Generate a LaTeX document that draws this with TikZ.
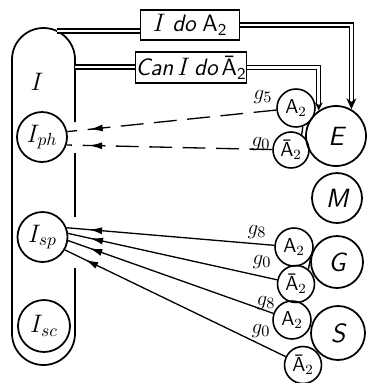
\documentclass[tikz,border=0pt]{standalone}
\usepackage{amsmath,amssymb}
\usepackage{fontspec}
\usepackage{tikz}
\usetikzlibrary{arrows.meta,positioning,decorations.markings}
\tikzset{
  blob/.style={draw,circle,inner sep=0,line width=1pt,minimum size=1cm,
               font=\fontsize{14}{16}\selectfont},
  agent/.style={draw,circle,inner sep=0,line width=1pt,
                font=\fontsize{15}{17}\selectfont\sffamily\itshape},
  cond/.style={draw,circle,inner sep=0,line width=0.9pt,minimum size=0.75cm,
               font=\fontsize{11.5}{13}\selectfont\sffamily},
  tag/.style={draw,line width=0.6pt,inner sep=0,minimum width=1.98cm,
              minimum height=0.6cm,font=\fontsize{13.5}{15}\selectfont\sffamily\itshape},
  glabel/.style={font=\fontsize{13}{15}\selectfont,inner sep=0},
  pipe/.style={double,double distance=1.6pt,line width=0.65pt},
  feed/.style={line width=0.75pt,postaction={decorate},
               decoration={markings,mark=at position -0.45cm with
                 {\arrow[solid]{Latex[length=2.6mm,width=1.4mm]}}}},
}
\begin{document}
\begin{tikzpicture}[x=0.02cm,y=-0.02cm]
  \useasboundingbox (0,0) rectangle (367,383);
  % the I group
  \draw[line width=1pt] (75,122) -- (75,59.5)
    arc[start angle=0,end angle=-180,radius=31.5] -- (12,333.5)
    arc[start angle=180,end angle=0,radius=31.5] -- (75,268);
  \draw[line width=1pt] (75,153) -- (75,217);
  \coordinate (c1) at (57,31);
  \coordinate (c2) at (75,67);
  \node[font=\fontsize{15}{17}\selectfont] (I) at (37,82) {$I$};
  \node[blob] (Iph) at (42,137) {$I_{ph}$};
  \node[blob] (Isp) at (42.5,237) {$I_{sp}$};
  \node[blob,minimum size=1.04cm] (Isc) at (44,326) {$I_{sc}$};

  % boxes on top
  \node[tag] (b1) at (190,25) {$I$\;do\;\textup{A}\textsubscript{\textup{2}}};
  \node[tag,minimum height=0.62cm] (b2) at (191,67.5)
    {Can\,$I$\,do\,\textup{Ā}\textsubscript{\textup{2}}};

  % agents
  \node[agent,minimum size=1.2cm] (E) at (336,136) {E};
  \node[agent,minimum size=1cm] (M) at (337,198) {M};
  \node[agent,minimum size=1.04cm] (G) at (337,262) {G};
  \node[agent,minimum size=1.08cm] (S) at (338,333) {S};

  \node[cond,minimum size=0.76cm] (aE) at (296,108) {A$_2$};
  \node[cond,minimum size=0.72cm] (abE) at (291,150) {Ā$_2$};
  \node[cond,minimum size=0.76cm] (aG) at (294,247) {A$_2$};
  \node[cond,minimum size=0.74cm] (abG) at (296,284) {Ā$_2$};
  \node[cond,minimum size=0.76cm] (aS) at (292,320) {A$_2$};
  \node[cond,minimum size=0.74cm] (abS) at (303,365) {Ā$_2$};
  \draw[line width=0.8pt] (aE.-70) -- (abE.55);
  \draw[line width=0.8pt] (aG.-32) -- (abG.50);

  % weights
  \node[glabel] (g1) at (263,97) {$g_5$};
  \node[glabel] (g2) at (261,144) {$g_0$};
  \node[glabel] (g3) at (257,232) {$g_8$};
  \node[glabel] (g4) at (262,262) {$g_0$};
  \node[glabel] (g5) at (266,303) {$g_8$};
  \node[glabel] (g6) at (261,331) {$g_0$};

  % double links through the boxes
  \draw[pipe] (c1) -- (c1 -| b1.west);
  \draw[pipe,-{Stealth[length=2.2mm,width=2mm]}] (b1.east) -| (E.60);
  \draw[pipe] (c2) -- (c2 -| b2.west);
  \draw[pipe,-{Stealth[length=1.6mm,width=1.6mm]}] (b2.east) -| (E.124);

  % feedback arrows
  \draw[feed,dash pattern=on 13pt off 6pt] (aE) -- (Iph.12);
  \draw[feed,dash pattern=on 13pt off 6pt] (abE) -- (Iph.-18);
  \draw[feed] (aG) -- (Isp.21);
  \draw[feed] (abG) -- (Isp.8);
  \draw[feed] (aS) -- (Isp.-8);
  \draw[feed] (abS) -- (Isp.-30);
\end{tikzpicture}
\end{document}
